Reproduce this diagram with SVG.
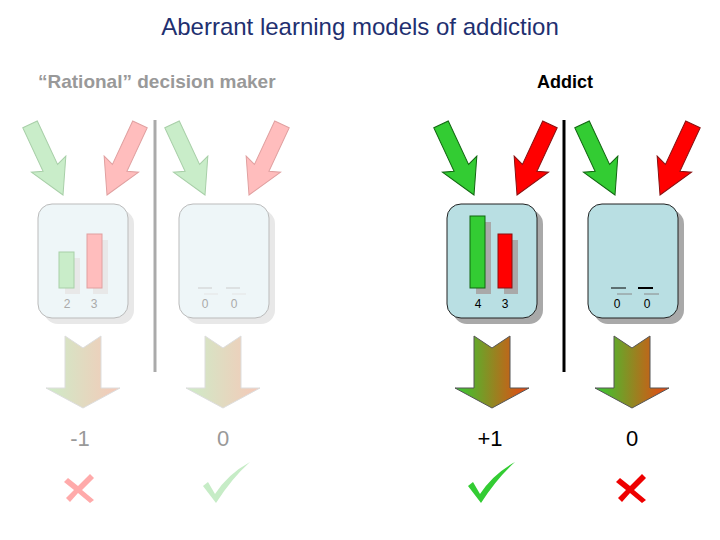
<svg xmlns="http://www.w3.org/2000/svg" width="720" height="540" viewBox="0 0 720 540">
<style>
text{font-family:"Liberation Sans",Arial,sans-serif}
.fg{fill:#c9edc9;stroke:#a8cfa8}
.fr{fill:#ffbdbd;stroke:#e0a0a0}
.bg{fill:#33cc33;stroke:#116611}
.br{fill:#ff0000;stroke:#881111}
.fbox{fill:#eef6f8;stroke:#bbbbbb}
.bbox{fill:#b9dfe3;stroke:#222}
.fsh{fill:#e8e8e8}
.bsh{fill:#a9a9a9}
.fl{fill:#aaa;font-size:12px;text-anchor:middle}
.bl{fill:#000;font-size:12px;text-anchor:middle}
</style>
<defs>
<polygon id="ain" points="-8,-78 8,-78 8,-30 19,-34 0,0 -19,-34 -8,-30"/>
<polygon id="aout" points="-18,0 0,12 18,0 18,52 37,52 0,72 -37,52 -18,52"/>
<linearGradient id="gf" x1="0" x2="1" y1="0" y2="0"><stop offset="0" stop-color="#cdecc8"/><stop offset="1" stop-color="#f6c8b8"/></linearGradient>
<linearGradient id="gb" x1="0" x2="1" y1="0" y2="0"><stop offset="0" stop-color="#33cc33"/><stop offset="1" stop-color="#ee4411"/></linearGradient>
</defs>
<text x="360" y="35" font-size="24" fill="#1f3070" text-anchor="middle">Aberrant learning models of addiction</text>
<text x="38" y="88" font-size="19" fill="#999" font-weight="bold">“Rational” decision maker</text>
<text x="565" y="88" font-size="18" fill="#000" font-weight="bold" text-anchor="middle">Addict</text>
<g id="dividers">
<line x1="155" y1="120" x2="155" y2="372" stroke="#aaa" stroke-width="3"/>
<line x1="564" y1="120" x2="564" y2="372" stroke="#000" stroke-width="3"/>
</g>
<g id="connectors">
<use href="#ain" class="fg" transform="translate(63,195) rotate(-25)"/>
<use href="#ain" class="fr" transform="translate(107,195) rotate(25)"/>
<use href="#ain" class="fg" transform="translate(205,195) rotate(-25)"/>
<use href="#ain" class="fr" transform="translate(249,195) rotate(25)"/>
<use href="#ain" class="bg" transform="translate(474,195) rotate(-25)"/>
<use href="#ain" class="br" transform="translate(517,195) rotate(25)"/>
<use href="#ain" class="bg" transform="translate(615,195) rotate(-25)"/>
<use href="#ain" class="br" transform="translate(660,195) rotate(25)"/>
<use href="#aout" fill="url(#gf)" stroke="#ddd" transform="translate(83,336)"/>
<use href="#aout" fill="url(#gf)" stroke="#ddd" transform="translate(223,336)"/>
<use href="#aout" fill="url(#gb)" stroke="#555" transform="translate(492,336)"/>
<use href="#aout" fill="url(#gb)" stroke="#555" transform="translate(632,336)"/>
</g>
<g id="panel1">
<rect x="44" y="210" width="90" height="114" rx="14" class="fsh"/>
<rect x="38" y="204" width="90" height="114" rx="14" class="fbox"/>
<rect x="65" y="258" width="15" height="36" class="fsh"/><rect x="59" y="252" width="15" height="36" class="fg"/>
<rect x="93" y="240" width="15" height="54" class="fsh"/><rect x="87" y="234" width="15" height="54" class="fr"/>
<text x="67" y="308" class="fl">2</text><text x="94" y="308" class="fl">3</text>
</g>
<g id="panel2">
<rect x="185" y="210" width="90" height="114" rx="14" class="fsh"/>
<rect x="179" y="204" width="90" height="114" rx="14" class="fbox"/>
<g stroke="#ccc"><line x1="198" y1="288" x2="212" y2="288"/><line x1="226" y1="288" x2="240" y2="288"/></g>
<g stroke="#e4e4e4"><line x1="204" y1="294" x2="218" y2="294"/><line x1="232" y1="294" x2="246" y2="294"/></g>
<text x="205" y="308" class="fl">0</text><text x="234" y="308" class="fl">0</text>
</g>
<g id="panel3">
<rect x="453" y="210" width="90" height="114" rx="14" class="bsh"/>
<rect x="447" y="204" width="90" height="114" rx="14" class="bbox"/>
<rect x="476" y="222" width="15" height="72" class="bsh"/><rect x="470" y="216" width="15" height="72" class="bg" stroke="#000"/>
<rect x="504" y="240" width="14" height="54" class="bsh"/><rect x="498" y="234" width="14" height="54" class="br" stroke="#000"/>
<text x="478" y="308" class="bl">4</text><text x="505" y="308" class="bl">3</text>
</g>
<g id="panel4">
<rect x="594" y="210" width="90" height="114" rx="14" class="bsh"/>
<rect x="588" y="204" width="90" height="114" rx="14" class="bbox"/>
<line x1="611" y1="288" x2="626" y2="288" stroke="#000"/><line x1="638" y1="288" x2="653" y2="288" stroke="#000" stroke-width="2"/>
<g stroke="#888"><line x1="617" y1="294" x2="632" y2="294"/><line x1="644" y1="294" x2="659" y2="294"/></g>
<text x="617" y="308" class="bl">0</text><text x="647" y="308" class="bl">0</text>
</g>
<g id="outcomes" font-size="22" text-anchor="middle">
<text x="80" y="446" fill="#999">-1</text>
<text x="223" y="446" fill="#999">0</text>
<text x="490" y="446" fill="#000">+1</text>
<text x="632" y="446" fill="#000">0</text>
</g>
<g id="marks">
<path d="M68,478 L78,486 L90,474 L94,478 L82,490 L94,500 L90,503 L78,493 L70,502 L66,498 L74,490 L64,482 Z" fill="#ffaaaa"/>
<path d="M203,486 L208,482 L215,494 Q228,474 250,462 Q232,478 216,503 Z" fill="#c6ecc6"/>
<path d="M468,486 L473,482 L480,494 Q493,474 515,462 Q497,478 481,503 Z" fill="#33cc33"/>
<path d="M620,478 L630,486 L642,474 L646,478 L634,490 L646,500 L642,503 L630,493 L622,502 L618,498 L626,490 L616,482 Z" fill="#ee0000"/>
</g>
</svg>
